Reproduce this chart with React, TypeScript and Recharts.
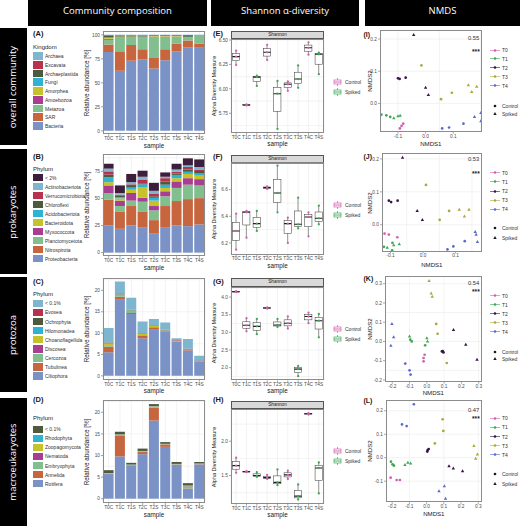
import React from 'react';
import {
  BarChart, Bar, ComposedChart, Scatter, ScatterChart, XAxis, YAxis, CartesianGrid,
} from 'recharts';

const samples = ['T0C', 'T1C', 'T1S', 'T2C', 'T2S', 'T3C', 'T3S', 'T4C', 'T4S'];

// (A) overall community, kingdom level, relative abundance [%]
const bacteria = [82, 62.5, 73, 74.5, 65, 73.5, 83, 87, 86.5];
const sar = [8, 19.5, 16.5, 10.5, 11, 11.5, 8, 7, 4.5];
const metazoa = [5, 15, 7.5, 12, 22, 13, 7, 3, 8];
const amoebozoa = [0.8, 0.6, 0.6, 0.5, 0.4, 0.4, 0.3, 0.4, 0.2];
const amorphea = [1.2, 0.6, 0.6, 0.6, 0.5, 0.4, 0.5, 0.4, 0.3];
const fungi = [0.3, 0.2, 0.2, 0.3, 0.2, 0.2, 0.2, 0.2, 0.1];
const archaeplastida = [1.5, 0.9, 1.0, 1.0, 0.5, 0.6, 0.6, 1.6, 0.2];
const excavata = [0.7, 0.4, 0.3, 0.3, 0.2, 0.2, 0.2, 0.2, 0.1];
const archaea = [0.5, 0.3, 0.3, 0.3, 0.2, 0.2, 0.2, 0.2, 0.1];

// (B) prokaryotes, phylum level
const proteobacteria = [25, 22, 25, 23, 18, 23, 25, 24.4, 26];
const nitrospirota = [24, 16, 18, 15, 12, 20, 22.6, 25, 24.3];
const planctomycetota = [6, 5, 5, 9, 9, 9, 12.1, 13.3, 11.7];
const myxococcota = [7, 5, 7, 3.6, 4, 4.6, 6, 6, 5.8];
const bacteroidota = [3, 2, 3, 9.4, 5, 3.1, 3, 3.9, 3.2];
const acidobacteriota = [4.5, 1, 2, 3, 2.6, 3, 3, 2, 2];
const chloroflexi = [2.5, 1.5, 1.5, 1, 1.4, 3, 1.3, 2.1, 2.3];
const verrucomicrobiota = [3, 1, 1.5, 3.5, 2.6, 3, 1.6, 2.3, 1.4];
const actinobacteriota = [2.5, 1.5, 2, 2.5, 2.4, 1.3, 2.1, 1.5, 2.3];
const prokOther = [4.5, 7, 7.6, 5.6, 7.4, 4, 5.3, 6.5, 7];

// (C) protozoa, phylum level
const ciliophora = [5.5, 17.8, 14.5, 8.8, 10.8, 10.4, 8.0, 5.8, 3.3];
const tubulinea = [1.3, 0.7, 0.2, 0.6, 0.5, 0.1, 0.1, 0.15, 0.05];
const cercozoa = [0.2, 0.6, 0.5, 0.1, 0.1, 0.05, 0.05, 0.05, 0.05];
const discosea = [0.1, 0.05, 0.05, 0.05, 0.05, 0.05, 0.05, 0.15, 0.05];
const choanoflagellida = [0.4, 0.05, 0.05, 0.3, 0.3, 0.05, 0.05, 0.05, 0.05];
const hilomonadea = [0.1, 0.1, 0.05, 0.05, 0.05, 0.05, 0.05, 0.05, 0.05];
const ochrophyta = [0.1, 0.05, 0.05, 0.05, 0.05, 0.05, 0.05, 0.05, 0.05];
const evosea = [0.1, 0.05, 0.05, 0.05, 0.05, 0.05, 0.05, 0.05, 0.05];
const protoOther = [3.4, 2.7, 2.85, 2.7, 1.4, 1.7, 0.4, 2.3, 1.05];

// (D) macroeukaryotes, phylum level
const rotifera = [5.7, 9.8, 7.6, 10.3, 18.1, 12.0, 7.8, 2.3, 7.9];
const annelida = [0.05, 4.8, 0.1, 0.5, 3.0, 0.5, 0.05, 0.1, 0.05];
const embryophyta = [0.05, 0.1, 0.05, 0.1, 0.2, 0.05, 0.05, 0.5, 0.05];
const nematoda = [0.05, 0.1, 0.05, 0.05, 0.05, 0.05, 0.05, 0.05, 0.05];
const zoopagomycota = [0.05, 0.05, 0.05, 0.05, 0.05, 0.05, 0.05, 0.05, 0.05];
const rhodophyta = [0.05, 0.05, 0.05, 0.05, 0.05, 0.05, 0.05, 0.05, 0.05];
const macroOther = [0.65, 0.6, 0.4, 0.55, 0.45, 0.4, 0.45, 0.55, 0.35];

// Shannon index, the three replicates of each sample
const alphaAll = [[6.245, 6.33, 6.39], [5.83, 5.835, 5.84], [6.03, 6.12, 6.135], [6.296, 6.374, 6.45], [5.59, 5.95, 6.08], [5.98, 6.047, 6.075], [6.01, 6.1, 6.24], [6.35, 6.42, 6.476], [6.15, 6.354, 6.37]];
const alphaProk = [[6.15, 6.29, 6.42], [6.24, 6.43, 6.44], [6.29, 6.345, 6.44], [6.605, 6.615, 6.625], [6.43, 6.575, 6.78], [6.2, 6.345, 6.39], [6.31, 6.34, 6.54], [6.25, 6.395, 6.43], [6.34, 6.385, 6.48]];
const alphaProto = [[4.14, 4.15, 4.165], [3.03, 3.2, 3.4], [2.95, 3.17, 3.38], [3.675, 3.69, 3.705], [3.15, 3.21, 3.38], [3.11, 3.26, 3.45], [1.76, 1.96, 2.05], [3.26, 3.45, 3.56], [2.86, 3.33, 3.52]];
const alphaMacro = [[1.54, 1.645, 1.76], [1.55, 1.555, 1.565], [1.48, 1.5, 1.55], [1.45, 1.47, 1.51], [1.36, 1.4, 1.59], [1.45, 1.51, 1.57], [1.15, 1.2, 1.37], [2.39, 2.4, 2.41], [1.24, 1.61, 1.69]];

// NMDS scores: [sample, NMDS1, NMDS2]
type Pt = [string, number, number];
const nmdsAll: Pt[] = [
  ['T0C', -0.081, -0.063], ['T0C', -0.093, -0.078], ['T0C', -0.087, -0.07],
  ['T1C', -0.16, -0.035], ['T1C', -0.142, -0.037], ['T1C', -0.128, -0.042],
  ['T1S', -0.115, -0.046], ['T1S', -0.1, -0.04], ['T1S', -0.092, -0.038],
  ['T2C', -0.1, 0.078], ['T2C', -0.094, 0.076], ['T2C', -0.072, 0.08],
  ['T2S', -0.043, 0.213], ['T2S', 0.0, 0.049], ['T2S', 0.01, 0.026],
  ['T3C', -0.015, 0.118], ['T3C', 0.056, 0.013], ['T3C', 0.095, 0.033],
  ['T3S', 0.155, 0.057], ['T3S', 0.185, 0.052], ['T3S', 0.167, 0.036],
  ['T4C', 0.06, -0.078], ['T4C', 0.085, -0.075], ['T4C', 0.137, -0.063],
  ['T4S', 0.177, -0.042], ['T4S', 0.2, -0.03], ['T4S', 0.2, -0.055],
];
const nmdsProk: Pt[] = [
  ['T0C', -0.118, -0.027], ['T0C', -0.105, -0.03], ['T0C', -0.079, -0.038],
  ['T1C', -0.12, -0.067], ['T1C', -0.094, -0.055], ['T1C', -0.095, -0.078],
  ['T1S', -0.09, -0.062], ['T1S', -0.073, -0.059], ['T1S', -0.11, -0.07],
  ['T2C', -0.105, 0.073], ['T2C', -0.098, 0.069], ['T2C', -0.078, 0.073],
  ['T2S', -0.063, 0.204], ['T2S', -0.018, 0.042], ['T2S', -0.002, 0.015],
  ['T3C', 0.009, 0.121], ['T3C', 0.051, 0.015], ['T3C', 0.08, 0.042],
  ['T3S', 0.111, 0.046], ['T3S', 0.141, 0.046], ['T3S', 0.127, 0.025],
  ['T4C', 0.128, -0.05], ['T4C', 0.093, -0.066], ['T4C', 0.075, -0.075],
  ['T4S', 0.16, -0.022], ['T4S', 0.163, -0.03], ['T4S', 0.167, -0.052],
];
const nmdsProto: Pt[] = [
  ['T0C', -0.013, -0.069], ['T0C', -0.019, -0.086], ['T0C', -0.019, -0.103],
  ['T1C', -0.096, 0.009], ['T1C', -0.087, 0.0], ['T1C', -0.01, -0.02],
  ['T1S', -0.1, 0.026], ['T1S', 0.0, 0.017], ['T1S', 0.004, 0.0],
  ['T2C', 0.087, -0.052], ['T2C', 0.096, -0.057], ['T2C', 0.092, -0.05],
  ['T2S', 0.154, 0.06], ['T2S', 0.225, -0.017], ['T2S', 0.29, -0.095],
  ['T3C', 0.054, 0.091], ['T3C', 0.062, 0.04], ['T3C', 0.115, -0.112],
  ['T3S', 0.013, 0.314], ['T3S', 0.025, 0.25], ['T3S', 0.031, 0.233],
  ['T4C', -0.125, -0.115], ['T4C', -0.1, -0.15], ['T4C', -0.094, -0.172],
  ['T4S', -0.202, 0.091], ['T4S', -0.192, 0.022], ['T4S', -0.208, -0.022],
];
const nmdsMacro: Pt[] = [
  ['T0C', -0.209, -0.085], ['T0C', -0.174, -0.095], ['T0C', -0.155, -0.095],
  ['T1C', -0.207, -0.017], ['T1C', -0.198, -0.028], ['T1C', -0.19, -0.034],
  ['T1S', -0.126, -0.031], ['T1S', -0.109, -0.021], ['T1S', -0.093, -0.024],
  ['T2C', 0.006, 0.033], ['T2C', 0.004, 0.026], ['T2C', 0.012, 0.037],
  ['T2S', 0.13, -0.036], ['T2S', 0.155, -0.046], ['T2S', 0.209, -0.057],
  ['T3C', 0.093, 0.164], ['T3C', 0.097, 0.114], ['T3C', 0.048, 0.061],
  ['T3S', 0.275, 0.05], ['T3S', 0.295, 0.014], ['T3S', 0.285, -0.004],
  ['T4C', -0.074, 0.228], ['T4C', -0.143, 0.142], ['T4C', -0.116, 0.135],
  ['T4S', 0.072, -0.142], ['T4S', 0.103, -0.121], ['T4S', 0.11, -0.174],
];

const BLUE = '#7a92c6';
const ORANGE = '#c7653f';
const LGREEN = '#82bf8e';
const MAGENTA = '#a93d91';
const YELLOW = '#c6c22c';
const CYAN = '#2eb3d2';
const OLIVE = '#4b5b3c';
const CRIMSON = '#b7324f';
const LBLUE = '#7eb6cf';
const DPURPLE = '#3c1f3c';

const PINK = '#d45fae';
const GREEN = '#3fa757';
const timeColors: Record<string, string> = {
  T0: '#d45fae', T1: '#3fa757', T2: '#3a1249', T3: '#aaa83a', T4: '#5a68cf',
};

type Taxon = { name: string; color: string; values: number[] };

// stack order, bottom first
const kingdomTaxa: Taxon[] = [
  { name: 'Bacteria', color: BLUE, values: bacteria },
  { name: 'SAR', color: ORANGE, values: sar },
  { name: 'Metazoa', color: LGREEN, values: metazoa },
  { name: 'Amoebozoa', color: MAGENTA, values: amoebozoa },
  { name: 'Amorphea', color: YELLOW, values: amorphea },
  { name: 'Fungi', color: CYAN, values: fungi },
  { name: 'Archaeplastida', color: OLIVE, values: archaeplastida },
  { name: 'Excavata', color: CRIMSON, values: excavata },
  { name: 'Archaea', color: LBLUE, values: archaea },
];
const prokTaxa: Taxon[] = [
  { name: 'Proteobacteria', color: BLUE, values: proteobacteria },
  { name: 'Nitrospirota', color: ORANGE, values: nitrospirota },
  { name: 'Planctomycetota', color: LGREEN, values: planctomycetota },
  { name: 'Myxococcota', color: MAGENTA, values: myxococcota },
  { name: 'Bacteroidota', color: YELLOW, values: bacteroidota },
  { name: 'Acidobacteriota', color: CYAN, values: acidobacteriota },
  { name: 'Chloroflexi', color: OLIVE, values: chloroflexi },
  { name: 'Verrucomicrobiota', color: CRIMSON, values: verrucomicrobiota },
  { name: 'Actinobacteriota', color: LBLUE, values: actinobacteriota },
  { name: '< 2%', color: DPURPLE, values: prokOther },
];
const protoTaxa: Taxon[] = [
  { name: 'Ciliophora', color: BLUE, values: ciliophora },
  { name: 'Tubulinea', color: ORANGE, values: tubulinea },
  { name: 'Cercozoa', color: LGREEN, values: cercozoa },
  { name: 'Discosea', color: MAGENTA, values: discosea },
  { name: 'Choanoflagellida', color: YELLOW, values: choanoflagellida },
  { name: 'Hilomonadea', color: CYAN, values: hilomonadea },
  { name: 'Ochrophyta', color: OLIVE, values: ochrophyta },
  { name: 'Evosea', color: CRIMSON, values: evosea },
  { name: '< 0.1%', color: LBLUE, values: protoOther },
];
const macroTaxa: Taxon[] = [
  { name: 'Rotifera', color: BLUE, values: rotifera },
  { name: 'Annelida', color: ORANGE, values: annelida },
  { name: 'Embryophyta', color: LGREEN, values: embryophyta },
  { name: 'Nematoda', color: MAGENTA, values: nematoda },
  { name: 'Zoopagomycota', color: YELLOW, values: zoopagomycota },
  { name: 'Rhodophyta', color: CYAN, values: rhodophyta },
  { name: '< 0.1%', color: OLIVE, values: macroOther },
];

const HEAD = '"Open Sans", "Noto Sans", sans-serif';
const FONT = '"Liberation Sans", Arial, sans-serif';
const tickStyle = { fontSize: 4.8, fill: '#4d4d4d', fontFamily: FONT };
const tickLine = { stroke: '#4d4d4d', strokeWidth: 0.5 };
const GRID = '#ebebeb';

type Rect = { l: number; t: number; r: number; b: number };

function place(p: Rect, yW: number, xH: number) {
  const mt = 2;
  const mr = 2;
  return {
    style: { position: 'absolute' as const, left: p.l - yW, top: p.t - mt },
    width: p.r - p.l + yW + mr,
    height: p.b - p.t + mt + xH,
    margin: { top: mt, right: mr, bottom: 0, left: 0 },
  };
}

function minorOf(ticks: number[], lo: number, hi: number) {
  const st = ticks[1] - ticks[0];
  const out: number[] = [];
  for (let v = ticks[0] - st; v <= ticks[ticks.length - 1] + st + 1e-9; v += st / 2) {
    if (v > lo && v < hi) out.push(+v.toFixed(4));
  }
  return out;
}

function Frame({ p }: { p: Rect }) {
  return (
    <div style={{
      position: 'absolute', left: p.l, top: p.t, width: p.r - p.l, height: p.b - p.t,
      border: '1px solid #8c8c8c', boxSizing: 'border-box', pointerEvents: 'none',
    }} />
  );
}

function Txt(props: {
  x: number; y: number; s: number; children: React.ReactNode;
  c?: string; w?: number; a?: 'start' | 'middle' | 'end'; rot?: boolean; f?: string;
}) {
  const { x, y, s, children, c = '#1a1a1a', w = 400, a = 'middle', rot = false, f = FONT } = props;
  const tx = a === 'start' ? '0%' : a === 'end' ? '-100%' : '-50%';
  return (
    <div style={{
      position: 'absolute', left: x, top: y,
      transform: `translate(${tx}, -50%)${rot ? ' rotate(-90deg)' : ''}`,
      fontSize: s, color: c, fontWeight: w, fontFamily: f, whiteSpace: 'nowrap', lineHeight: 1,
    }}>
      {children}
    </div>
  );
}

interface CompProps {
  plot: Rect; domain: [number, number]; ticks: number[]; taxa: Taxon[];
  letter: string; legendTitle: string; letterY: number; titleY: number;
  y0: number; step: number; sampleY: number;
}

function Composition({ plot, domain, ticks, taxa, letter, legendTitle, letterY, titleY, y0, step, sampleY }: CompProps) {
  const data = samples.map((s, i) => {
    const row: Record<string, number | string> = { sample: s };
    taxa.forEach((t, j) => { row['t' + j] = t.values[i]; });
    return row;
  });
  const pl = place(plot, 30, 12);
  const legend = [...taxa].reverse();
  return (
    <>
      <Txt x={33} y={letterY} s={7.5} w={700} a="start">{letter}</Txt>
      <Txt x={33} y={titleY} s={6} a="start">{legendTitle}</Txt>
      {legend.map((t, i) => (
        <React.Fragment key={t.name}>
          <div style={{ position: 'absolute', left: 33, top: y0 + i * step - 3.8, width: 9.5, height: 7.6, background: t.color }} />
          <Txt x={45} y={y0 + i * step} s={5} a="start" c="#333">{t.name}</Txt>
        </React.Fragment>
      ))}
      <div style={pl.style}>
        <BarChart width={pl.width} height={pl.height} data={data} margin={pl.margin} barCategoryGap="5%">
          <CartesianGrid stroke={GRID} strokeWidth={0.6} horizontalValues={minorOf(ticks, domain[0], domain[1])} />
          <XAxis dataKey="sample" interval={0} height={12} tick={tickStyle} tickSize={2} tickMargin={0.5} axisLine={false} tickLine={tickLine} />
          <YAxis type="number" domain={domain} ticks={ticks} allowDataOverflow width={30} tick={tickStyle} tickSize={2} tickMargin={1} axisLine={false} tickLine={tickLine} />
          {taxa.map((t, j) => (
            <Bar key={t.name} dataKey={'t' + j} stackId="s" fill={t.color} isAnimationActive={false} />
          ))}
        </BarChart>
      </div>
      <Frame p={plot} />
      <Txt x={(plot.l + plot.r) / 2} y={sampleY} s={6.3}>sample</Txt>
      <Txt x={86.5} y={(plot.t + plot.b) / 2} s={6.3} rot>Relative abundance [%]</Txt>
    </>
  );
}

function BoxShape(props: any) {
  const { x, y, width, height, payload } = props;
  if (x == null || y == null || !payload) return null;
  const top = Math.min(y, y + height);
  const h = Math.abs(height);
  const span = payload.hi - payload.lo || 1;
  const py = (v: number) => top + ((payload.hi - v) / span) * h;
  const cx = x + width / 2;
  const bw = width * 0.8;
  return (
    <g>
      <line x1={cx} x2={cx} y1={py(payload.hi)} y2={py(payload.lo)} stroke="#333" strokeWidth={0.5} />
      <rect x={cx - bw / 2} y={py(payload.q3)} width={bw} height={Math.max(py(payload.q1) - py(payload.q3), 0.5)} fill="#fff" stroke="#333" strokeWidth={0.5} />
      <line x1={cx - bw / 2} x2={cx + bw / 2} y1={py(payload.med)} y2={py(payload.med)} stroke="#1a1a1a" strokeWidth={1.1} />
    </g>
  );
}

const replicateDot = (p: any) => (
  <circle cx={p.cx} cy={p.cy} r={1.15} fill={p.payload.grp === 'C' ? PINK : GREEN} />
);

function BoxKey({ color }: { color: string }) {
  return (
    <svg width={9} height={8} style={{ display: 'block' }}>
      <line x1={4.5} x2={4.5} y1={0} y2={8} stroke={color} strokeWidth={0.7} />
      <rect x={1} y={2} width={7} height={4} fill="#fff" stroke={color} strokeWidth={0.7} />
      <line x1={1} x2={8} y1={4} y2={4} stroke={color} strokeWidth={0.9} />
    </svg>
  );
}

interface AlphaProps {
  plot: Rect; domain: [number, number]; ticks: number[]; digits: number; vals: number[][];
  letter: string; letterY: number; legendY: number; sampleY: number;
}

function Alpha({ plot, domain, ticks, digits, vals, letter, letterY, legendY, sampleY }: AlphaProps) {
  const data = samples.map((s, i) => {
    const v = [...vals[i]].sort((a, b) => a - b);
    return {
      sample: s, grp: s.endsWith('C') ? 'C' : 'S', range: [v[0], v[2]],
      lo: v[0], q1: (v[0] + v[1]) / 2, med: v[1], q3: (v[1] + v[2]) / 2, hi: v[2],
      v0: v[0], v1: v[1], v2: v[2],
    };
  });
  const pl = place(plot, 26, 12);
  return (
    <>
      <Txt x={213} y={letterY} s={7.5} w={700} a="start">{letter}</Txt>
      <div style={{
        position: 'absolute', left: plot.l, top: plot.t - 8.3, width: plot.r - plot.l, height: 8.3,
        background: '#d9d9d9', border: '0.8px solid #555', boxSizing: 'border-box',
      }} />
      <Txt x={(plot.l + plot.r) / 2} y={plot.t - 4.2} s={4.6} c="#1a1a1a">Shannon</Txt>
      <div style={pl.style}>
        <ComposedChart width={pl.width} height={pl.height} data={data} margin={pl.margin} barCategoryGap="5%">
          <CartesianGrid stroke={GRID} strokeWidth={0.6} horizontalValues={minorOf(ticks, domain[0], domain[1])} />
          <XAxis dataKey="sample" interval={0} height={12} tick={tickStyle} tickSize={2} tickMargin={0.5} axisLine={false} tickLine={tickLine} />
          <YAxis type="number" domain={domain} ticks={ticks} allowDataOverflow width={26} tick={tickStyle} tickSize={2} tickMargin={1}
            axisLine={false} tickLine={tickLine} tickFormatter={(v: number) => v.toFixed(digits)} />
          <Bar dataKey="range" shape={BoxShape} isAnimationActive={false} />
          <Scatter dataKey="v0" shape={replicateDot} isAnimationActive={false} />
          <Scatter dataKey="v1" shape={replicateDot} isAnimationActive={false} />
          <Scatter dataKey="v2" shape={replicateDot} isAnimationActive={false} />
        </ComposedChart>
      </div>
      <Frame p={plot} />
      <Txt x={(plot.l + plot.r) / 2} y={sampleY} s={6.3}>sample</Txt>
      <Txt x={215} y={(plot.t + plot.b) / 2} s={5.6} rot>Alpha Diversity Measure</Txt>
      <div style={{ position: 'absolute', left: 333, top: legendY - 4 }}><BoxKey color={PINK} /></div>
      <Txt x={345} y={legendY} s={5} a="start" c="#333">Control</Txt>
      <div style={{ position: 'absolute', left: 333, top: legendY + 5.5 }}><BoxKey color={GREEN} /></div>
      <Txt x={345} y={legendY + 9.5} s={5} a="start" c="#333">Spiked</Txt>
    </>
  );
}

function ordShape(color: string, spiked: boolean) {
  return (p: any) => (spiked
    ? <polygon points={`${p.cx},${p.cy - 1.9} ${p.cx - 1.7},${p.cy + 1.1} ${p.cx + 1.7},${p.cy + 1.1}`} fill={color} />
    : <circle cx={p.cx} cy={p.cy} r={1.35} fill={color} />);
}

interface NmdsProps {
  plot: Rect; xDomain: [number, number]; yDomain: [number, number]; xTicks: number[]; yTicks: number[];
  pts: Pt[]; stress: string; letter: string; letterY: number; statY: number; starY: number;
  t0Y: number; step: number; ctrlY: number; spikeY: number; titleY: number;
}

function Nmds(props: NmdsProps) {
  const { plot, xDomain, yDomain, xTicks, yTicks, pts, stress, letter, letterY, statY, starY, t0Y, step, ctrlY, spikeY, titleY } = props;
  const pl = place(plot, 22, 11);
  const fmt = (v: number) => (Math.abs(v) < 1e-9 ? '0.0' : v.toFixed(1));
  return (
    <>
      <Txt x={363.5} y={letterY} s={7} w={700} a="start">{letter}</Txt>
      <div style={pl.style}>
        <ScatterChart width={pl.width} height={pl.height} margin={pl.margin}>
          <CartesianGrid stroke={GRID} strokeWidth={0.6}
            horizontalValues={minorOf(yTicks, yDomain[0], yDomain[1])}
            verticalValues={minorOf(xTicks, xDomain[0], xDomain[1])} />
          <XAxis type="number" dataKey="x" domain={xDomain} ticks={xTicks} allowDataOverflow height={11}
            tick={tickStyle} tickSize={2} tickMargin={0.5} axisLine={false} tickLine={tickLine} tickFormatter={fmt} />
          <YAxis type="number" dataKey="y" domain={yDomain} ticks={yTicks} allowDataOverflow width={22}
            tick={tickStyle} tickSize={2} tickMargin={1} axisLine={false} tickLine={tickLine} tickFormatter={fmt} />
          {samples.map((s) => (
            <Scatter key={s} name={s}
              data={pts.filter((q) => q[0] === s).map((q) => ({ x: q[1], y: q[2] }))}
              shape={ordShape(timeColors[s.slice(0, 2)], s.endsWith('S'))}
              isAnimationActive={false} />
          ))}
        </ScatterChart>
      </div>
      <Frame p={plot} />
      <Txt x={plot.r - 2.5} y={statY} s={5.8} a="end" c="#333">{stress}</Txt>
      <Txt x={plot.r - 2} y={starY} s={6.5} a="end" w={700} c="#1a1a1a">***</Txt>
      <Txt x={(plot.l + plot.r) / 2} y={titleY} s={6.1}>NMDS1</Txt>
      <Txt x={370} y={(plot.t + plot.b) / 2} s={6.1} rot>NMDS2</Txt>
      {['T0', 'T1', 'T2', 'T3', 'T4'].map((t, i) => (
        <React.Fragment key={t}>
          <svg width={10} height={5} style={{ position: 'absolute', left: 490, top: t0Y + i * step - 2.5 }}>
            <line x1={0} x2={10} y1={2.5} y2={2.5} stroke={timeColors[t]} strokeWidth={0.6} />
            <circle cx={5} cy={2.5} r={1.3} fill={timeColors[t]} />
          </svg>
          <Txt x={502} y={t0Y + i * step} s={5} a="start" c="#333">{t}</Txt>
        </React.Fragment>
      ))}
      <svg width={10} height={10} style={{ position: 'absolute', left: 490, top: ctrlY - 5 }}>
        <circle cx={5} cy={5} r={1.35} fill="#1a1a1a" />
      </svg>
      <Txt x={502} y={ctrlY} s={5} a="start" c="#333">Control</Txt>
      <svg width={10} height={10} style={{ position: 'absolute', left: 490, top: spikeY - 5 }}>
        <polygon points="5,3.1 3.3,6.1 6.7,6.1" fill="#1a1a1a" />
      </svg>
      <Txt x={502} y={spikeY} s={5} a="start" c="#333">Spiked</Txt>
    </>
  );
}

const columns = [
  { label: 'Community composition', l: 28, r: 207 },
  { label: 'Shannon α-diversity', l: 211, r: 359 },
  { label: 'NMDS', l: 365, r: 520 },
];
const rowBands = [
  { label: 'overall community', t: 28, b: 145 },
  { label: 'prokaryotes', t: 149, b: 274 },
  { label: 'protozoa', t: 277, b: 392 },
  { label: 'macroeukaryotes', t: 398, b: 526 },
];

export default function App() {
  return (
    <div style={{ position: 'absolute', left: 0, top: 0, width: 520, height: 526, background: '#fff', overflow: 'hidden', fontFamily: FONT }}>
      {columns.map((c) => (
        <React.Fragment key={c.label}>
          <div style={{ position: 'absolute', left: c.l, top: 0, width: c.r - c.l, height: 26, background: '#000' }} />
          <Txt x={(c.l + c.r) / 2} y={10.5} s={9.5} c="#fff" f={HEAD}>{c.label}</Txt>
        </React.Fragment>
      ))}
      {rowBands.map((r) => (
        <React.Fragment key={r.label}>
          <div style={{ position: 'absolute', left: 0, top: r.t, width: 27, height: r.b - r.t, background: '#000' }} />
          <Txt x={12.5} y={(r.t + r.b) / 2} s={9.5} c="#fff" f={HEAD} rot>{r.label}</Txt>
        </React.Fragment>
      ))}

      <Composition plot={{ l: 103, t: 30.9, r: 205, b: 134.1 }} domain={[-3.5, 104]} ticks={[0, 25, 50, 75, 100]}
        taxa={kingdomTaxa} letter="(A)" legendTitle="Kingdom" letterY={33.5} titleY={47} y0={56} step={8.75} sampleY={145.6} />
      <Composition plot={{ l: 103, t: 154.4, r: 205, b: 256.3 }} domain={[-3, 91]} ticks={[0, 25, 50, 75]}
        taxa={prokTaxa} letter="(B)" legendTitle="Phylum" letterY={156.7} titleY={169.3} y0={177.7} step={9} sampleY={267.8} />
      <Composition plot={{ l: 103, t: 278.3, r: 205, b: 380 }} domain={[-0.9, 22.9]} ticks={[0, 5, 10, 15, 20]}
        taxa={protoTaxa} letter="(C)" legendTitle="Phylum" letterY={281.7} titleY={294.3} y0={303.3} step={9.1} sampleY={391.4} />
      <Composition plot={{ l: 103, t: 400, r: 205, b: 503 }} domain={[-1, 22.85]} ticks={[0, 5, 10, 15, 20]}
        taxa={macroTaxa} letter="(D)" legendTitle="Phylum" letterY={400} titleY={418.3} y0={429.3} step={9.05} sampleY={514.6} />

      <Alpha plot={{ l: 231, t: 39, r: 324, b: 132.8 }} domain={[5.55, 6.51]} ticks={[5.75, 6, 6.25, 6.5]} digits={2}
        vals={alphaAll} letter="(E)" letterY={33.5} legendY={82} sampleY={144.4} />
      <Alpha plot={{ l: 231, t: 163.3, r: 324, b: 254.6 }} domain={[6.115, 6.8]} ticks={[6.2, 6.4, 6.6]} digits={1}
        vals={alphaProk} letter="(F)" letterY={156.7} legendY={205} sampleY={266.4} />
      <Alpha plot={{ l: 231, t: 286.6, r: 324, b: 380 }} domain={[1.64, 4.285]} ticks={[2, 2.5, 3, 3.5, 4]} digits={1}
        vals={alphaProto} letter="(G)" letterY={281.7} legendY={329} sampleY={391.4} />
      <Alpha plot={{ l: 231, t: 409.3, r: 324, b: 504 }} domain={[1.09, 2.47]} ticks={[1.5, 2]} digits={1}
        vals={alphaMacro} letter="(H)" letterY={400} legendY={451} sampleY={515.2} />

      <Nmds plot={{ l: 380, t: 30, r: 481.7, b: 131.7 }} xDomain={[-0.165, 0.203]} yDomain={[-0.088, 0.228]}
        xTicks={[-0.1, 0, 0.1]} yTicks={[0, 0.1, 0.2]} pts={nmdsAll} stress="0.55" letter="(I)" letterY={33.5}
        statY={39} starY={52.3} t0Y={50} step={8.9} ctrlY={105.7} spikeY={114.3} titleY={144.2} />
      <Nmds plot={{ l: 382, t: 153.3, r: 481.7, b: 251.7 }} xDomain={[-0.126, 0.18]} yDomain={[-0.081, 0.218]}
        xTicks={[-0.1, 0, 0.1]} yTicks={[0, 0.1, 0.2]} pts={nmdsProk} stress="0.53" letter="(J)" letterY={155.5}
        statY={160} starY={174} t0Y={172.7} step={9.15} ctrlY={228.3} spikeY={237.7} titleY={265} />
      <Nmds plot={{ l: 385, t: 276, r: 481.7, b: 381.7 }} xDomain={[-0.242, 0.317]} yDomain={[-0.209, 0.34]}
        xTicks={[-0.2, -0.1, 0, 0.1, 0.2, 0.3]} yTicks={[-0.2, -0.1, 0, 0.1, 0.2, 0.3]} pts={nmdsProto} stress="0.54"
        letter="(K)" letterY={278} statY={284} starY={291.5} t0Y={295.7} step={9} ctrlY={351.7} spikeY={359.3} titleY={392.8} />
      <Nmds plot={{ l: 386, t: 400, r: 481.7, b: 502.3 }} xDomain={[-0.236, 0.32]} yDomain={[-0.19, 0.246]}
        xTicks={[-0.2, -0.1, 0, 0.1, 0.2, 0.3]} yTicks={[-0.1, 0, 0.1, 0.2]} pts={nmdsMacro} stress="0.47"
        letter="(L)" letterY={399.5} statY={410.7} starY={419.3} t0Y={418.3} step={9.1} ctrlY={474.3} spikeY={483.7} titleY={514.2} />
    </div>
  );
}
